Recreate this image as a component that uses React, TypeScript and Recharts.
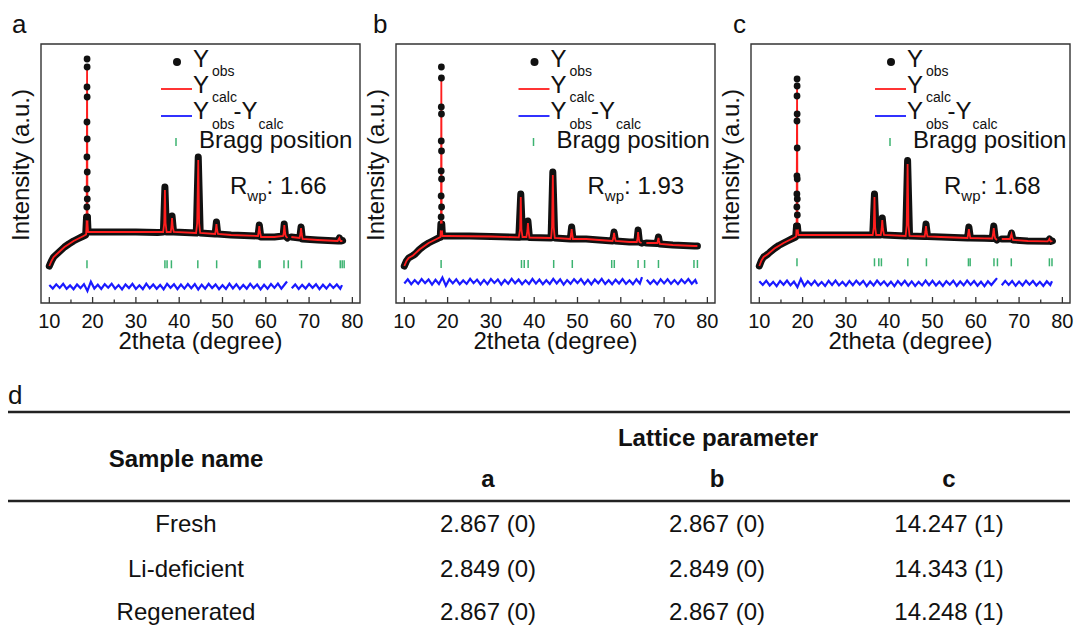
import { ComposedChart, Legend, Line, ReferenceArea, Scatter, XAxis, YAxis } from 'recharts';

const FONT = '"Liberation Sans", Arial, sans-serif';
const INK = '#111111';
const RED = '#ff1e1e';
const BLUE = '#1a1aff';
const GREEN = '#3cb371';
const FRAME = '#333333';

// 2theta axis (degree) and plot height in arbitrary intensity units
const X_DOMAIN: [number, number] = [8.08, 81.76];
const Y_TOP = 259;
const MAJOR_TICKS = [10, 20, 30, 40, 50, 60, 70, 80];
const ALL_TICKS = [10, 15, 20, 25, 30, 35, 40, 45, 50, 55, 60, 65, 70, 75, 80];

type Pt = [number, number | null];

// ---- panel a : Fresh ----
const OBS_A: Pt[] = [
  [10, 37], [10.5, 42], [11, 46], [12, 50], [12.5, 52], [13.5, 56], [14.5, 59], [15.6, 62], [16.5, 64],
  [17.9, 67], [18.4, 68], [18.6, 86], [18.8, 86], [18.95, 71], [20, 71], [25, 71], [30, 71], [35, 70.5],
  [36.35, 71], [36.7, 116], [37.05, 71], [38.05, 71], [38.35, 87], [38.7, 71], [43.95, 70], [44.4, 146],
  [44.85, 70], [48.3, 69], [48.6, 81], [48.9, 69], [52, 68], [55, 67.5], [58.2, 67], [58.5, 78], [58.85, 66],
  [62, 66], [64.0, 67], [64.25, 79], [64.55, 67], [65.0, 65], [65.4, null], [65.9, 66], [67.85, 65],
  [68.15, 76], [68.45, 64], [72, 63], [76.7, 62], [77.0, 65], [77.3, 62], [77.75, 62.5],
];
const PEAK_A: Pt[] = [
  [18.72, 244], [18.73, 236], [18.71, 216], [18.74, 206], [18.7, 181], [18.75, 164],
  [18.69, 146], [18.76, 131], [18.68, 114], [18.77, 104], [18.67, 96], [18.78, 86],
];
const CALC_A: Pt[] = [
  [10, 37], [10.5, 42], [11, 46], [12, 50], [13.5, 56], [15.6, 62], [17.9, 67], [18.5, 68.5], [18.62, 80],
  [18.72, 236], [18.82, 80], [18.95, 71], [20, 71], [30, 71], [36.3, 71], [36.55, 80], [36.7, 113],
  [36.85, 80], [37.1, 71], [38.05, 71], [38.2, 76], [38.35, 85], [38.5, 76], [38.75, 71], [43.9, 70],
  [44.15, 80], [44.4, 143], [44.6, 80], [44.85, 70], [48.3, 69], [48.45, 73], [48.6, 79], [48.75, 73],
  [48.95, 69], [52, 68], [58.2, 67], [58.35, 71], [58.5, 77], [58.65, 71], [58.9, 66], [62, 66], [64.0, 67],
  [64.15, 70], [64.28, 78], [64.45, 70], [64.6, 67], [65.0, 65], [65.4, null], [65.9, 66], [67.8, 65],
  [68.0, 69], [68.15, 75], [68.3, 69], [68.5, 64], [72, 63], [76.6, 62], [76.85, 64], [77.0, 65],
  [77.15, 63], [77.3, 62], [77.7, 62],
];
const BRAGG_A = [18.7, 36.7, 37.2, 38.2, 44.3, 48.65, 58.45, 58.7, 64.2, 65.2, 68.25, 77.2, 77.65, 78.1];

// ---- panel b : Li-deficient ----
const OBS_B: Pt[] = [
  [10, 37], [10.5, 42], [11, 45], [12, 47.5], [12.5, 49], [13.5, 53.5], [14.5, 57], [15.6, 60], [16.5, 62],
  [17.9, 65], [18.3, 65.5], [18.45, 79], [18.65, 79], [18.8, 67], [20, 67], [25, 67], [30, 66.5],
  [36.45, 65.7], [36.9, 109], [37.3, 66], [38.2, 66], [38.55, 82], [38.9, 65.5], [43.9, 65], [44.3, 131],
  [44.75, 65], [48.35, 64], [48.65, 76], [48.95, 64], [52, 64], [55, 63], [58.1, 62], [58.45, 71], [58.8, 62],
  [62, 61], [63.7, 61], [64.0, 73], [64.3, 61], [64.8, 60], [65.3, null], [65.9, 60], [68.4, 59.5],
  [68.7, 66], [69.0, 59], [72, 58], [77.0, 57], [77.7, 57],
];
const PEAK_B: Pt[] = [
  [18.56, 236], [18.57, 225], [18.54, 196], [18.58, 189], [18.53, 162], [18.59, 152],
  [18.52, 132], [18.6, 124], [18.51, 107], [18.61, 96], [18.5, 86], [18.62, 76],
];
const CALC_B: Pt[] = [
  [10, 37], [10.5, 42], [11, 45], [12, 47.5], [13.5, 53.5], [15.6, 60], [17.9, 65], [18.35, 66], [18.47, 76],
  [18.55, 227], [18.63, 76], [18.8, 67], [20, 67], [30, 66.5], [36.45, 65.7], [36.75, 74], [36.9, 106],
  [37.05, 74], [37.3, 66], [38.2, 66], [38.42, 72], [38.55, 80], [38.7, 72], [38.9, 65.5], [43.9, 65],
  [44.12, 76], [44.3, 128], [44.5, 76], [44.75, 65], [48.35, 64], [48.53, 69], [48.65, 74], [48.78, 69],
  [48.95, 64], [52, 64], [55, 63], [58.1, 62], [58.32, 66], [58.45, 70], [58.6, 66], [58.8, 62], [62, 61],
  [63.7, 61], [63.88, 65], [64.0, 71], [64.13, 65], [64.3, 61], [64.8, 60], [65.3, null], [65.9, 60],
  [68.45, 60], [68.6, 63], [68.7, 65], [68.82, 62], [69.0, 59], [72, 58], [77.0, 57], [77.7, 57],
];
const BRAGG_B = [18.5, 37.06, 37.7, 38.6, 44.5, 48.8, 57.9, 58.5, 64.0, 65.5, 68.7, 76.9, 77.7];

// ---- panel c : Regenerated ----
const OBS_C: Pt[] = [
  [10, 37], [10.5, 42.5], [11, 46], [12, 49], [12.5, 51], [13.5, 54.5], [14.5, 57.5], [15.6, 60], [16.5, 62],
  [17.9, 65], [18.4, 66], [18.6, 77], [18.8, 77], [19.0, 68], [20, 68], [25, 68], [30, 68], [36.2, 68],
  [36.6, 109], [37.0, 68], [38.0, 68], [38.4, 85], [38.8, 68], [43.8, 67], [44.25, 142.5], [44.7, 67],
  [48.2, 66.5], [48.5, 79], [48.85, 66.5], [52, 66], [55, 65.5], [58.1, 65], [58.4, 76], [58.75, 65],
  [62, 64.7], [63.8, 64.5], [64.15, 77], [64.5, 64.5], [64.9, 63], [65.4, null], [66.0, 64], [67.9, 64],
  [68.25, 70], [68.6, 63], [72, 62], [76.6, 61.7], [77.0, 64], [77.3, 61.5], [77.7, 62],
];
const PEAK_C: Pt[] = [
  [18.72, 224], [18.73, 217], [18.71, 207], [18.74, 189], [18.7, 182], [18.75, 155], [18.69, 127],
  [18.76, 124], [18.68, 109], [18.77, 104], [18.67, 96], [18.78, 88], [18.66, 77],
];
const CALC_C: Pt[] = [
  [10, 37], [10.5, 42.5], [11, 46], [12, 49], [13.5, 54.5], [15.6, 60], [17.9, 65], [18.5, 66.5], [18.62, 76],
  [18.72, 219], [18.82, 76], [19.0, 68], [20, 68], [36.2, 68], [36.45, 76], [36.6, 106], [36.75, 76],
  [37.0, 68], [38.05, 68], [38.25, 74], [38.4, 83], [38.55, 74], [38.8, 68], [43.8, 67], [44.05, 78],
  [44.25, 139], [44.45, 78], [44.7, 67], [48.2, 66.5], [48.35, 71], [48.5, 77], [48.65, 71], [48.85, 66.5],
  [52, 66], [58.1, 65], [58.25, 69], [58.4, 74], [58.55, 69], [58.75, 65], [62, 64.7], [63.8, 64.5],
  [63.95, 68], [64.15, 75], [64.3, 68], [64.5, 64.5], [64.9, 63], [65.4, null], [66.0, 64], [67.9, 64],
  [68.1, 67], [68.25, 69], [68.4, 66], [68.6, 63], [72, 62], [76.6, 61.7], [76.85, 63], [77.0, 64],
  [77.15, 62.5], [77.3, 61.5], [77.7, 62],
];
const BRAGG_C = [18.7, 36.6, 37.6, 38.2, 44.3, 48.6, 58.3, 58.7, 64.2, 65.0, 68.2, 77.0, 77.6];

// Yobs - Ycalc residuals, read on a shared 2theta grid (null = gap in the scan)
const DIFF_X = [
  10.0, 10.8, 11.6, 12.4, 13.2, 14.0, 14.8, 15.6, 16.4, 17.2,
  18.0, 18.8, 19.6, 20.4, 21.2, 22.0, 22.8, 23.6, 24.4, 25.2,
  26.0, 26.8, 27.6, 28.4, 29.2, 30.0, 30.8, 31.6, 32.4, 33.2,
  34.0, 34.8, 35.6, 36.4, 37.2, 38.0, 38.8, 39.6, 40.4, 41.2,
  42.0, 42.8, 43.6, 44.4, 45.2, 46.0, 46.8, 47.6, 48.4, 49.2,
  50.0, 50.8, 51.6, 52.4, 53.2, 54.0, 54.8, 55.6, 56.4, 57.2,
  58.0, 58.8, 59.6, 60.4, 61.2, 62.0, 62.8, 63.6, 64.4, 64.9,
  65.4,
  66.0, 66.8, 67.6, 68.4, 69.2, 70.0, 70.8, 71.6, 72.4, 73.2, 74.0, 74.8, 75.6, 76.4, 77.2, 77.6,
];
const DIFF_A: (number | null)[] = [
  1.5, -2.0, 2.2, -1.4, 2.6, -2.3, 1.1, -2.7, 2.0, -1.6,
  2.4, -4.5, 4.8, -2.1, 1.7, -2.5, 2.3, -1.2, 2.8, -2.2,
  1.4, -2.9, 2.1, -1.5, 2.6, -2.4, 1.2, -2.6, 2.9, -1.8,
  2.0, -2.3, 1.6, -2.8, 2.7, -1.3, 2.2, -2.6, 1.9, -2.1,
  2.5, -1.7, 2.4, -3.0, 1.8, -2.2, 2.6, -1.5, 2.1, -2.7,
  1.3, -2.4, 2.8, -1.9, 2.3, -2.5, 1.5, -2.2, 2.7, -1.6,
  2.0, -2.8, 1.7, -2.3, 2.5, -1.4, 2.9, -2.1, 2.2, 5.0,
  null,
  -1.8, 2.1, -2.4, 1.6, -2.0, 2.5, -1.3, 2.2, -2.6, 1.7, -2.1, 2.4, -1.5, 2.0, -2.3, 1.4,
];
const DIFF_B: (number | null)[] = [
  -1.8, 2.3, -2.5, 1.6, -2.1, 2.7, -1.4, 2.2, -2.9, 1.9,
  -2.3, 4.2, -4.0, 2.5, -1.7, 2.4, -2.6, 1.3, -2.2, 2.8,
  -1.5, 2.1, -2.7, 1.8, -2.4, 2.6, -1.2, 2.3, -2.8, 1.7,
  -2.0, 2.9, -1.6, 2.2, -2.5, 1.4, -2.3, 2.7, -1.9, 2.1,
  -2.6, 1.5, -2.2, 2.8, -1.7, 2.4, -2.9, 1.6, -2.1, 2.5,
  -1.4, 2.6, -2.4, 1.9, -2.7, 2.2, -1.6, 2.8, -2.3, 1.5,
  -2.5, 2.0, -1.8, 2.7, -2.2, 1.4, -2.6, 2.3, -1.9, 4.6,
  null,
  2.0, -2.2, 1.5, -2.6, 2.3, -1.7, 2.5, -2.1, 1.6, -2.4, 2.2, -1.5, 2.6, -2.0, 1.8, -2.3,
];
const DIFF_C: (number | null)[] = [
  2.1, -1.6, 2.6, -2.2, 1.4, -2.8, 2.3, -1.5, 2.7, -2.0,
  1.7, -3.8, 4.4, -2.6, 2.0, -1.8, 2.5, -2.3, 1.2, -2.7,
  2.4, -1.6, 2.8, -2.1, 1.5, -2.5, 2.2, -1.9, 2.6, -1.3,
  2.3, -2.8, 1.8, -2.2, 2.7, -1.5, 2.0, -2.4, 1.6, -2.9,
  2.2, -1.7, 2.5, -2.3, 1.9, -2.6, 1.4, -2.1, 2.8, -1.8,
  2.4, -2.2, 1.6, -2.7, 2.1, -1.4, 2.6, -2.5, 1.8, -2.0,
  2.7, -1.6, 2.3, -2.4, 1.5, -2.8, 2.0, -1.7, 2.5, 5.2,
  null,
  -1.9, 2.4, -1.6, 2.2, -2.5, 1.7, -2.1, 2.6, -1.4, 2.3, -2.2, 1.5, -2.7, 2.0, -1.8, 2.1,
];

// table d
const SAMPLE_NAMES = ['Fresh', 'Li-deficient', 'Regenerated'];
const LATTICE_A = ['2.867 (0)', '2.849 (0)', '2.867 (0)'];
const LATTICE_B = ['2.867 (0)', '2.849 (0)', '2.867 (0)'];
const LATTICE_C = ['14.247 (1)', '14.343 (1)', '14.248 (1)'];

const toXY = (pts: Pt[]) => pts.map(([x, y]) => ({ x, y }));
const zipDiff = (res: (number | null)[]) => DIFF_X.map((x, i) => ({ x, y: res[i] }));

const panels = [
  { left: 0, obs: OBS_A, peak: PEAK_A, calc: CALC_A, diff: DIFF_A, diffZero: 16.5, bragg: BRAGG_A, braggRow: 38.7, rwp: '1.66', dx: 0 },
  { left: 355, obs: OBS_B, peak: PEAK_B, calc: CALC_B, diff: DIFF_B, diffZero: 21.3, bragg: BRAGG_B, braggRow: 39, rwp: '1.93', dx: 2.5 },
  { left: 710, obs: OBS_C, peak: PEAK_C, calc: CALC_C, diff: DIFF_C, diffZero: 19.7, bragg: BRAGG_C, braggRow: 40.7, rwp: '1.68', dx: 4 },
];

const AxisTick = (props: any) => {
  const { x, y, payload } = props;
  const major = MAJOR_TICKS.includes(payload.value);
  return (
    <g>
      <line x1={x} x2={x} y1={y} y2={y - (major ? 6 : 3.5)} stroke={FRAME} strokeWidth={1.3} />
      {major && (
        <text x={x} y={y + 25} textAnchor="middle" fontSize={20} fontFamily={FONT} fill={INK}>
          {payload.value}
        </text>
      )}
    </g>
  );
};

const ObsDot = (props: any) => <circle cx={props.cx} cy={props.cy} r={3.4} fill={INK} />;
const BraggTick = (props: any) => (
  <line x1={props.cx} x2={props.cx} y1={props.cy - 4} y2={props.cy + 4} stroke={GREEN} strokeWidth={1.5} />
);

// legend, R_wp note and the y title of one panel
const LegendBox = ({ dx, rwp }: { dx: number; rwp: string }) => (
  <svg width={366} height={260}>
    <text
      x={29}
      y={165}
      transform="rotate(-90 29 165)"
      textAnchor="middle"
      fontSize={24}
      fontFamily={FONT}
      fill={INK}
    >
      Intensity (a.u.)
    </text>
    <g transform={`translate(${dx},0)`} fontFamily={FONT} fill={INK}>
      <circle cx={177} cy={62} r={4} fill={INK} />
      <text x={193} y={67} fontSize={24}>
        Y<tspan dx={3} dy={9} fontSize={14}>obs</tspan>
      </text>
      <line x1={161} x2={192} y1={89} y2={89} stroke={RED} strokeWidth={1.8} />
      <text x={193} y={93} fontSize={24}>
        Y<tspan dx={3} dy={9} fontSize={14}>calc</tspan>
      </text>
      <line x1={161} x2={192} y1={116} y2={116} stroke={BLUE} strokeWidth={1.8} />
      <text x={193} y={119} fontSize={24}>
        Y<tspan dx={3} dy={10} fontSize={14}>obs</tspan>
        <tspan dx={-1} dy={-10} fontSize={24}>-Y</tspan>
        <tspan dx={1} dy={10} fontSize={14}>calc</tspan>
      </text>
      <line x1={176} x2={176} y1={138} y2={146} stroke={GREEN} strokeWidth={1.5} />
      <text x={199} y={148} fontSize={24}>Bragg position</text>
      <text x={230} y={194} fontSize={24}>
        R<tspan dy={7} fontSize={15}>wp</tspan>
        <tspan dy={-7} fontSize={24}>: {rwp}</tspan>
      </text>
    </g>
  </svg>
);

const Panel = ({ p }: { p: (typeof panels)[number] }) => (
  <div style={{ position: 'absolute', left: p.left, top: 0 }}>
    <ComposedChart width={366} height={370} margin={{ top: 44, right: 6, bottom: 20, left: 0 }}>
      <XAxis
        dataKey="x"
        type="number"
        domain={X_DOMAIN}
        allowDataOverflow
        ticks={ALL_TICKS}
        interval={0}
        tickLine={false}
        axisLine={false}
        tickSize={0}
        tickMargin={0}
        tick={<AxisTick />}
        height={47}
        label={{ value: '2theta (degree)', position: 'insideBottom', offset: 1, fontSize: 24, fill: INK, fontFamily: FONT }}
      />
      <YAxis
        yAxisId="main"
        dataKey="y"
        type="number"
        domain={[0, Y_TOP]}
        allowDataOverflow
        width={41}
        tick={false}
        tickLine={false}
        axisLine={false}
      />
      <YAxis yAxisId="diff" dataKey="y" type="number" domain={[-p.diffZero, Y_TOP - p.diffZero]} allowDataOverflow hide />
      <Line
        yAxisId="diff"
        data={zipDiff(p.diff)}
        dataKey="y"
        stroke={BLUE}
        strokeWidth={2.2}
        strokeLinejoin="miter"
        dot={false}
        activeDot={false}
        isAnimationActive={false}
      />
      <Scatter
        yAxisId="main"
        data={p.bragg.map((x) => ({ x, y: p.braggRow }))}
        shape={<BraggTick />}
        isAnimationActive={false}
      />
      <Line
        yAxisId="main"
        data={toXY(p.obs)}
        dataKey="y"
        stroke={INK}
        strokeWidth={7}
        strokeLinejoin="round"
        strokeLinecap="round"
        dot={false}
        activeDot={false}
        isAnimationActive={false}
      />
      <Scatter yAxisId="main" data={toXY(p.peak)} shape={<ObsDot />} isAnimationActive={false} />
      <Line
        yAxisId="main"
        data={toXY(p.calc)}
        dataKey="y"
        stroke={RED}
        strokeWidth={1.8}
        dot={false}
        activeDot={false}
        isAnimationActive={false}
      />
      <ReferenceArea
        yAxisId="main"
        x1={X_DOMAIN[0]}
        x2={X_DOMAIN[1]}
        y1={0}
        y2={Y_TOP}
        fill="none"
        stroke={FRAME}
        strokeWidth={1.4}
        ifOverflow="visible"
      />
      <Legend
        layout="horizontal"
        verticalAlign="middle"
        align="center"
        content={<LegendBox dx={p.dx} rwp={p.rwp} />}
        wrapperStyle={{ left: 0, top: 0, width: 366, height: 260, pointerEvents: 'none' }}
      />
    </ComposedChart>
  </div>
);

const ROW_Y = [532, 577, 620];
const COL_X = [186, 488, 717, 949];

const TableAndLetters = () => (
  <svg width={1076} height={626} style={{ position: 'absolute', left: 0, top: 0, pointerEvents: 'none' }} fontFamily={FONT}>
    <g fontSize={26} fill={INK}>
      <text x={12} y={33}>a</text>
      <text x={373} y={33}>b</text>
      <text x={733} y={33}>c</text>
      <text x={8} y={404}>d</text>
    </g>
    <line x1={8} x2={1070} y1={412} y2={412} stroke="#222" strokeWidth={2.6} />
    <line x1={8} x2={1070} y1={501} y2={501} stroke="#222" strokeWidth={2.6} />
    <g fontSize={24} fontWeight="bold" fill={INK} textAnchor="middle">
      <text x={718} y={446}>Lattice parameter</text>
      <text x={COL_X[0]} y={467}>Sample name</text>
      <text x={COL_X[1]} y={487}>a</text>
      <text x={COL_X[2]} y={487}>b</text>
      <text x={COL_X[3]} y={487}>c</text>
    </g>
    <g fontSize={24} fill={INK} textAnchor="middle">
      {SAMPLE_NAMES.map((name, i) => (
        <g key={name}>
          <text x={COL_X[0]} y={ROW_Y[i]}>{name}</text>
          <text x={COL_X[1]} y={ROW_Y[i]}>{LATTICE_A[i]}</text>
          <text x={COL_X[2]} y={ROW_Y[i]}>{LATTICE_B[i]}</text>
          <text x={COL_X[3]} y={ROW_Y[i]}>{LATTICE_C[i]}</text>
        </g>
      ))}
    </g>
  </svg>
);

export default function App() {
  return (
    <div style={{ position: 'absolute', left: 0, top: 0, width: 1076, height: 626, background: '#fff', fontFamily: FONT }}>
      {panels.map((p) => (
        <Panel key={p.left} p={p} />
      ))}
      <TableAndLetters />
    </div>
  );
}
